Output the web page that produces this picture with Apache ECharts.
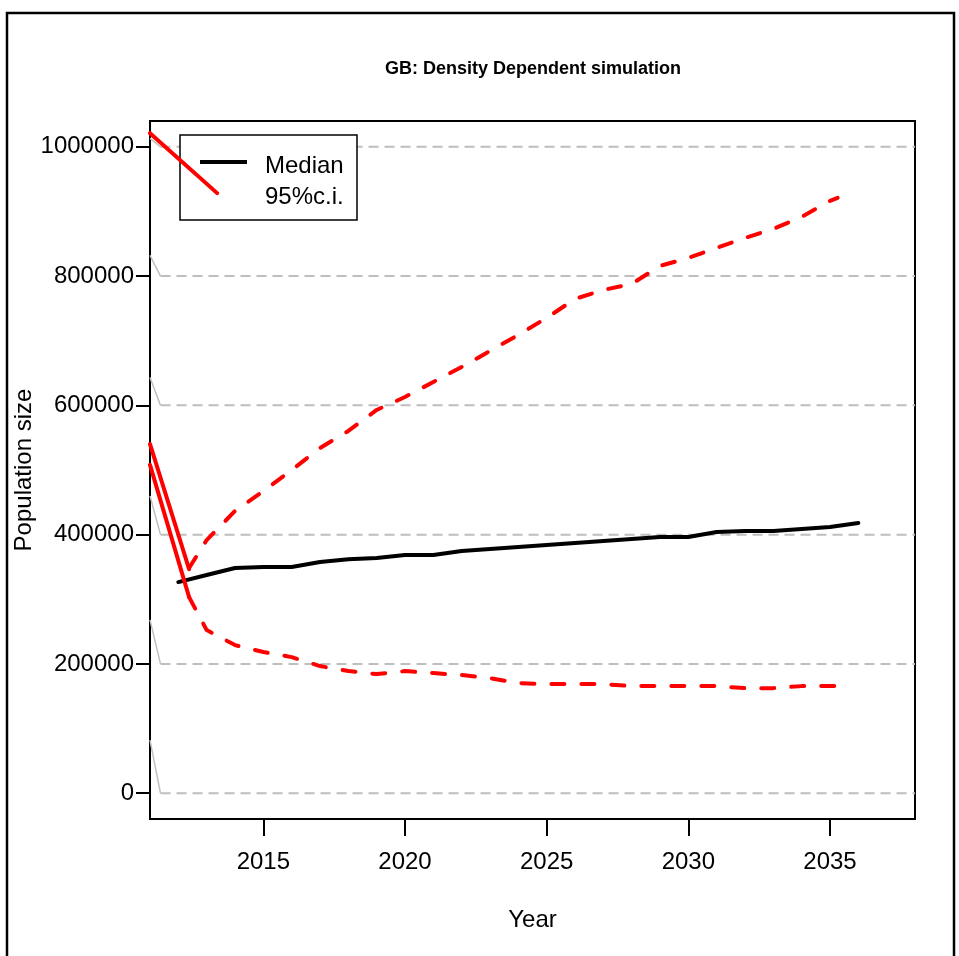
<!DOCTYPE html>
<html>
<head>
<meta charset="utf-8">
<script src="https://cdn.jsdelivr.net/npm/echarts@6/dist/echarts.min.js"></script>
<style>
  html, body { margin: 0; padding: 0; background: #fff; }
  #chart { width: 959px; height: 956px; }
</style>
</head>
<body>
<div id="chart"></div>
<script>
// median trajectory
const years = [2012, 2013, 2014, 2015, 2016, 2017, 2018, 2019, 2020, 2021, 2022, 2023, 2024,
  2025, 2026, 2027, 2028, 2029, 2030, 2031, 2032, 2033, 2034, 2035, 2036]
const median = [326600, 337500, 348300, 350000, 350000, 357600, 362000, 364000, 368500, 368500,
  374600, 377700, 380800, 384000, 387000, 390000, 393200, 396300, 396300, 404000, 405600,
  405600, 408700, 411800, 418000]

// 95% c.i. (dashed)
const ciYears = [2012.38, 2013, 2014, 2015, 2016, 2017, 2018, 2019, 2020, 2021, 2022, 2023, 2024,
  2025, 2026, 2027, 2028, 2029, 2030, 2031, 2032, 2033, 2034, 2035, 2035.27]
const upper = [348300, 391600, 436500, 467500, 500000, 534000, 560400, 592900, 613000, 636200,
  659400, 684200, 709000, 735300, 764700, 778600, 787900, 815800, 828200, 843700, 859100,
  873100, 891700, 916400, 921000]
const lower = [303300, 252300, 229100, 218300, 210500, 196600, 188900, 184200, 188900, 185800,
  182700, 178000, 170300, 168700, 168700, 168700, 165600, 165600, 165600, 165600, 162500,
  162500, 165600, 165600, 165600]

// solid red segments coming in from the left edge [x0, y0, x1, y1]
const redSegments = [
  [2011, 1021200, 2013.37, 928400],
  [2011, 540000, 2012.38, 346600],
  [2011, 508000, 2012.38, 303300]
]

// y ticks / grid
const yTicks = [0, 200000, 400000, 600000, 800000, 1000000]
const gridStubStart = [82000, 268000, 460000, 643000, 832000, 1013000]
const xTicks = [2015, 2020, 2025, 2030, 2035]

const FONT = "'Liberation Sans', Arial, Helvetica, sans-serif"

const chart = echarts.init(document.getElementById('chart'))

const series = []

// grid lines: short grey diagonal + dashed horizontal
yTicks.forEach((v, i) => {
  series.push({
    type: 'line',
    data: [[2011, gridStubStart[i]], [2011.37, v]],
    symbol: 'none',
    silent: true,
    z: 1,
    lineStyle: { color: '#c0c0c0', width: 1.5 }
  })
  series.push({
    type: 'line',
    data: [[2011.37, v], [2038, v]],
    symbol: 'none',
    silent: true,
    z: 1,
    lineStyle: { color: '#bebebe', width: 2, type: [10, 6] }
  })
})

series.push({
  name: '95%c.i.',
  type: 'line',
  data: ciYears.map((x, i) => [x, upper[i]]),
  symbol: 'none',
  lineStyle: { color: '#ff0000', width: 4, type: [13, 17], cap: 'round', join: 'round' }
})
series.push({
  name: '95%c.i.',
  type: 'line',
  data: ciYears.map((x, i) => [x, lower[i]]),
  symbol: 'none',
  lineStyle: { color: '#ff0000', width: 4, type: [13, 17], cap: 'round', join: 'round' }
})

redSegments.forEach((s) => {
  series.push({
    type: 'line',
    data: [[s[0], s[1]], [s[2], s[3]]],
    symbol: 'none',
    z: 20,
    lineStyle: { color: '#ff0000', width: 4, cap: 'round' }
  })
})

series.push({
  name: 'Median',
  type: 'line',
  data: years.map((x, i) => [x, median[i]]),
  symbol: 'none',
  z: 5,
  lineStyle: { color: '#000', width: 4, cap: 'round', join: 'round' }
})

const option = {
  animation: false,
  backgroundColor: '#fff',
  textStyle: { fontFamily: FONT },
  title: {
    text: 'GB: Density Dependent simulation',
    left: 533,
    top: 60,
    textAlign: 'center',
    padding: 0,
    textStyle: { fontFamily: FONT, fontSize: 18, fontWeight: 'bold', color: '#000' }
  },
  grid: {
    left: 150,
    top: 121,
    width: 765,
    height: 698,
    show: true,
    borderColor: '#000',
    borderWidth: 2,
    containLabel: false,
    outerBoundsMode: 'none'
  },
  xAxis: {
    type: 'value',
    min: 2011,
    max: 2038,
    name: 'Year',
    nameLocation: 'middle',
    nameGap: 89,
    nameMoveOverlap: false,
    nameTextStyle: { fontFamily: FONT, fontSize: 24, color: '#000' },
    axisLine: { show: true, onZero: false, lineStyle: { color: '#000', width: 2 } },
    axisTick: { show: true, length: 17, customValues: xTicks, lineStyle: { color: '#000', width: 2 } },
    axisLabel: {
      customValues: xTicks, margin: 31, fontSize: 24, color: '#000', fontFamily: FONT,
      formatter: (v) => String(v)
    },
    splitLine: { show: false }
  },
  yAxis: {
    type: 'value',
    min: -40000,
    max: 1040000,
    name: 'Population size',
    nameLocation: 'middle',
    nameGap: 114,
    nameMoveOverlap: false,
    nameTextStyle: { fontFamily: FONT, fontSize: 24, color: '#000' },
    axisLine: { show: true, onZero: false, lineStyle: { color: '#000', width: 2 } },
    axisTick: { show: true, length: 14, customValues: yTicks, lineStyle: { color: '#000', width: 2 } },
    axisLabel: {
      customValues: yTicks, margin: 16, fontSize: 24, color: '#000', fontFamily: FONT,
      formatter: (v) => String(v)
    },
    splitLine: { show: false }
  },
  graphic: [
    {
      type: 'polyline',
      z: 30,
      shape: { points: [[7, 960], [7, 13], [954, 13], [954, 960]] },
      style: { fill: null, stroke: '#000', lineWidth: 2.5 }
    },
    {
      type: 'rect',
      z: 10,
      shape: { x: 180, y: 135, width: 177, height: 85 },
      style: { fill: '#fff', stroke: '#000', lineWidth: 1.5 }
    },
    {
      type: 'line',
      z: 11,
      shape: { x1: 200, y1: 162, x2: 247, y2: 162 },
      style: { stroke: '#000', lineWidth: 4 }
    },
    {
      type: 'text',
      z: 11,
      x: 265,
      y: 166,
      style: { text: 'Median', font: '24px ' + FONT, fill: '#000', verticalAlign: 'middle' }
    },
    {
      type: 'text',
      z: 11,
      x: 265,
      y: 197,
      style: { text: '95%c.i.', font: '24px ' + FONT, fill: '#000', verticalAlign: 'middle' }
    }
  ],
  series: series
}

chart.setOption(option)
</script>
</body>
</html>
